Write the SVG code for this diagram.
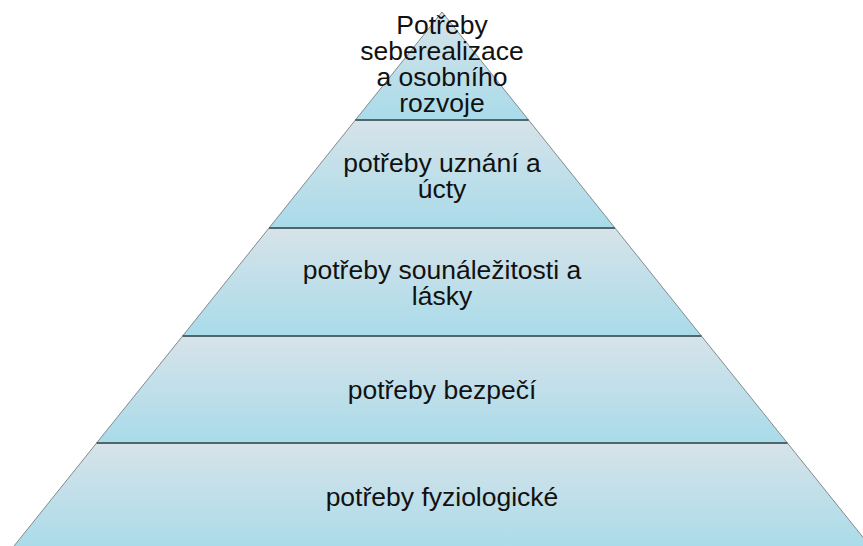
<svg xmlns="http://www.w3.org/2000/svg" width="863" height="546" viewBox="0 0 863 546">
<defs>
<linearGradient id="g" x1="0" y1="0" x2="0" y2="1">
<stop offset="0" stop-color="#d7e3e9"/>
<stop offset="1" stop-color="#a9dbe9"/>
</linearGradient>
<style>
.band{fill:url(#g);stroke:#808b8e;stroke-width:1}
.sep{stroke:#51666b;stroke-width:2}
text{font-family:"Liberation Sans",Arial,sans-serif;font-size:26.5px;fill:#111;text-anchor:middle}
</style>
</defs>
<rect width="863" height="546" fill="#fff"/>
<g id="level5"><polygon class="band" points="96.6,443 787.4,443 874,551 10,551"/><text x="442" y="506">potřeby fyziologické</text></g>
<g id="level4"><polygon class="band" points="182.6,336 701.4,336 787.4,443 96.6,443"/><text x="442" y="399">potřeby bezpečí</text></g>
<g id="level3"><polygon class="band" points="269,228 615,228 701.4,336 182.6,336"/><text x="442" y="279">potřeby sounáležitosti a</text><text x="442" y="305">lásky</text></g>
<g id="level2"><polygon class="band" points="355.4,120 528.6,120 615,228 269,228"/><text x="442" y="172">potřeby uznání a</text><text x="442" y="198">úcty</text></g>
<g id="level1"><polygon class="band" points="442,12 528.6,120 355.4,120"/><text x="442" y="34">Potřeby</text><text x="442" y="60">seberealizace</text><text x="442" y="86">a osobního</text><text x="442" y="112">rozvoje</text></g>
<g id="connectors">
<line class="sep" x1="355.4" y1="120" x2="528.6" y2="120"/>
<line class="sep" x1="269" y1="228" x2="615" y2="228"/>
<line class="sep" x1="182.6" y1="336" x2="701.4" y2="336"/>
<line class="sep" x1="96.6" y1="443" x2="787.4" y2="443"/>
</g>
</svg>
